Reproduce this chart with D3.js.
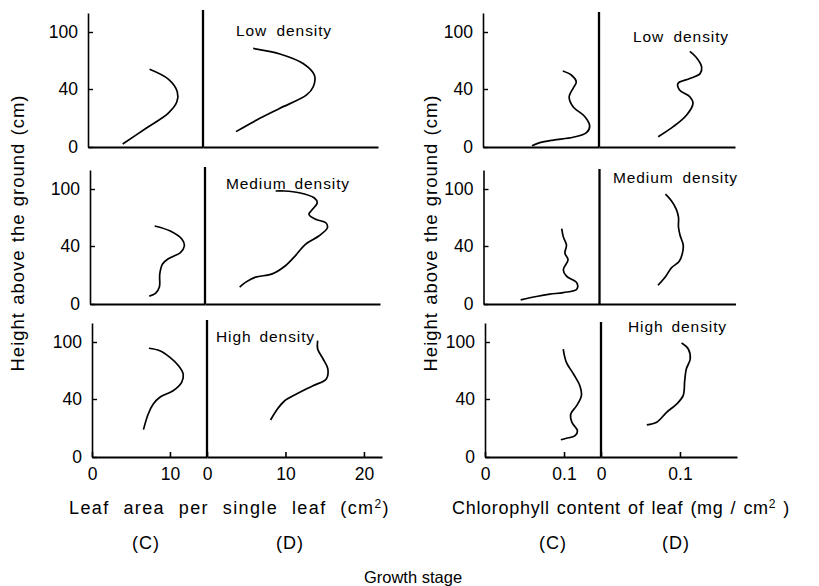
<!DOCTYPE html>
<html><head><meta charset="utf-8">
<script src="https://cdn.jsdelivr.net/npm/d3@7"></script>
<style>body{margin:0;background:#fff}</style>
</head><body>
<svg id="c" width="819" height="586"></svg>
<script>
// ---------- data ----------
const heightTicks = [0, 40, 100];
const leafTicksC = [0, 10];
const leafTicksD = [0, 10, 20];
const chlTicksC = [0, 0.1];
const chlTicksD = [0, 0.1];
const densities = ["Low density", "Medium density", "High density"];
const stages = ["(C)", "(D)"];

// Leaf area per single leaf (cm2) vs height (cm)
const leafC_low_v = [7.9, 10.3, 11.45, 11.4, 10.3, 7.5, 4.45];
const leafC_low_h = [60.7, 50.3, 38.1, 31.2, 23.4, 13.1, 2.1];
const leafD_low_v = [6.4, 9.8, 12.8, 14.2, 14.05, 13.2, 9.8, 6.85, 4.2];
const leafD_low_h = [82.7, 76.9, 66.6, 54.5, 42.4, 35.9, 26.7, 18.6, 10.6];
const leafC_med_v = [8.3, 10.3, 11.8, 12.1, 11.6, 10.1, 9.3, 8.95, 8.9, 8.4, 7.6];
const leafC_med_h = [61.1, 55.8, 47.1, 40, 35.5, 31.4, 27.6, 20.8, 11.7, 7.3, 5.4];
const leafD_med_v = [9.0, 10.1, 12.0, 13.9, 14.3, 13.7, 13.25, 14.1, 15.4, 15.6, 14.5, 12.8, 11.5, 10.25, 8.57, 6.45, 5.2, 4.42];
const leafD_med_h = [97.9, 97.9, 96.1, 90.8, 85.6, 78.6, 73.4, 68.1, 64.5, 59.3, 50.5, 41.8, 33.2, 26.4, 20.8, 18.5, 15.1, 11.7];
const leafC_high_v = [7.3, 8.7, 10.0, 11.1, 11.7, 11.5, 10.4, 8.7, 7.86, 7.2, 6.6];
const leafC_high_h = [93.4, 90.8, 83.9, 75.1, 66.3, 57.6, 48.7, 41.8, 36.5, 29.5, 18.9];
const leafD_high_v = [14.1, 14.1, 14.8, 15.4, 15.2, 13.5, 11.4, 9.9, 8.8, 8.1];
const leafD_high_h = [101.4, 92.6, 82.1, 71.6, 61.1, 54.0, 45.3, 38.8, 31.8, 25.5];

// Chlorophyll content of leaf (mg/cm2) vs height (cm)
const chlC_low_v = [0.101, 0.112, 0.118, 0.114, 0.109, 0.114, 0.129, 0.135, 0.131, 0.114, 0.089, 0.072, 0.062];
const chlC_low_h = [58.9, 54.5, 47.5, 40.7, 34.7, 27.8, 20.9, 14.5, 9.9, 6.7, 4.8, 3.0, 0.9];
const chlD_low_v = [0.115, 0.123, 0.130, 0.128, 0.115, 0.100, 0.102, 0.115, 0.119, 0.111, 0.094, 0.075];
const chlD_low_h = [79.6, 73.4, 63.0, 56.2, 51.0, 45.9, 39.3, 34.7, 30.1, 22.1, 14.0, 7.1];
const chlC_med_v = [0.099, 0.101, 0.105, 0.103, 0.107, 0.101, 0.105, 0.118, 0.118, 0.101, 0.084, 0.067, 0.047];
const chlC_med_h = [58.3, 49.6, 41.0, 35.1, 30.5, 23.7, 19.2, 14.7, 10.2, 7.9, 6.8, 5.2, 2.9];
const chlD_med_v = [0.0835, 0.091, 0.097, 0.100, 0.100, 0.102, 0.106, 0.105, 0.101, 0.091, 0.084, 0.074];
const chlD_med_h = [94.5, 87.6, 79.0, 70.3, 60.0, 51.4, 41.0, 35.1, 29.4, 24.9, 19.2, 12.9];
const chlC_high_v = [0.099, 0.103, 0.112, 0.120, 0.122, 0.116, 0.1085, 0.110, 0.117, 0.114, 0.103, 0.096];
const chlC_high_h = [92.6, 78.6, 66.3, 54.0, 43.5, 35.4, 29.7, 23.9, 18.1, 14.7, 12.9, 11.9];
const chlD_high_v = [0.102, 0.1105, 0.113, 0.108, 0.106, 0.104, 0.096, 0.083, 0.0705, 0.058];
const chlD_high_h = [98.9, 92.6, 82.1, 71.6, 59.3, 43.5, 36.6, 30.8, 23.9, 22.1];

// ---------- layout ----------
const FONT = "'Liberation Sans', Arial, Helvetica, sans-serif";
const svg = d3.select("#c");
svg.append("rect").attr("width", 819).attr("height", 586).attr("fill", "#fff");

const rowBase = [147, 304, 457];
const yScaleFor = b => d3.scaleLinear().domain([0, 40, 100, 120]).range([b, b - 58, b - 115, b - 134]);

const groups = [
  {
    xC: d3.scaleLinear().domain([0, 14.75]).range([92, 207]),
    xD: d3.scaleLinear().domain([0, 22.3]).range([207, 382]),
    ticksC: leafTicksC, ticksD: leafTicksD, shift: [-4, -2, 0], divTop: 137,
    series: [
      [leafC_low_v, leafC_low_h, leafD_low_v, leafD_low_h],
      [leafC_med_v, leafC_med_h, leafD_med_v, leafD_med_h],
      [leafC_high_v, leafC_high_h, leafD_high_v, leafD_high_h]
    ],
    labelPos: [[236, 36], [226, 189], [216, 342]], labelW: [96, 124, 99],
    title: "Leaf area per single leaf (cm", titleSup: "2", titleEnd: ")", titleX: 69, titleW: 321,
    stageX: [146, 290]
  },
  {
    xC: d3.scaleLinear().domain([0, 0.1468]).range([485, 601]),
    xD: d3.scaleLinear().domain([0, 0.1722]).range([601, 737]),
    ticksC: chlTicksC, ticksD: chlTicksD, shift: [-2, -1.5, 0], divTop: 135,
    series: [
      [chlC_low_v, chlC_low_h, chlD_low_v, chlD_low_h],
      [chlC_med_v, chlC_med_h, chlD_med_v, chlD_med_h],
      [chlC_high_v, chlC_high_h, chlD_high_v, chlD_high_h]
    ],
    labelPos: [[633, 42], [613, 183], [628, 332]], labelW: [96, 125, 99],
    title: "Chlorophyll content of leaf (mg / cm", titleSup: "2", titleEnd: " )", titleX: 452, titleW: 338,
    stageX: [553, 676]
  }
];
const yTitleX = [24, 437];

function fitWidth(sel, target, ls) {
  sel.style("letter-spacing", ls + "px");
  const w = sel.node().getComputedTextLength();
  const n = (sel.text().match(/ /g) || []).length;
  if (n) sel.style("word-spacing", Math.max(0, (target - w) / n) + "px");
}

const fmt = d3.format("~g");

groups.forEach((G, gi) => {
  rowBase.forEach((b, r) => {
    const y = yScaleFor(b);
    const g = svg.append("g").attr("transform", `translate(${G.shift[r]},0)`);
    const last = r === rowBase.length - 1;

    // y axis
    const ya = g.append("g").attr("transform", `translate(${G.xC(0)},0)`)
      .call(d3.axisLeft(y).tickValues(heightTicks).tickFormat(fmt).tickSizeInner(-5).tickSizeOuter(0).tickPadding(10));
    ya.select(".domain").attr("stroke-width", 1.6);
    ya.selectAll(".tick line").attr("stroke-width", 1.4);
    ya.selectAll("text").attr("font-family", FONT).attr("font-size", 17.5).attr("fill", "#000");

    // x axes
    [[G.xC, G.ticksC], [G.xD, G.ticksD]].forEach(([xs, tv]) => {
      const xa = g.append("g").attr("transform", `translate(0,${b})`)
        .call(d3.axisBottom(xs).tickValues(last ? tv : []).tickFormat(fmt).tickSizeInner(-5).tickSizeOuter(0).tickPadding(11));
      xa.select(".domain").attr("stroke-width", 2);
      xa.selectAll(".tick line").attr("stroke-width", 1.6);
      xa.selectAll("text").attr("font-family", FONT).attr("font-size", 17.5).attr("fill", "#000");
    });

    // divider
    g.append("line")
      .attr("x1", G.xD(0)).attr("x2", G.xD(0))
      .attr("y1", y(0)).attr("y2", y(0) - G.divTop)
      .attr("stroke", "#000").attr("stroke-width", 2.3);

    // curves
    const [cv, ch, dv, dh] = G.series[r];
    const lineC = d3.line().x(d => G.xC(d[0])).y(d => y(d[1])).curve(d3.curveCatmullRom.alpha(0.5));
    const lineD = d3.line().x(d => G.xD(d[0])).y(d => y(d[1])).curve(d3.curveCatmullRom.alpha(0.5));
    g.append("path").attr("d", lineC(d3.zip(cv, ch))).attr("fill", "none").attr("stroke", "#000").attr("stroke-width", 1.7);
    g.append("path").attr("d", lineD(d3.zip(dv, dh))).attr("fill", "none").attr("stroke", "#000").attr("stroke-width", 1.7);

    // density label
    const t = svg.append("text").attr("x", G.labelPos[r][0]).attr("y", G.labelPos[r][1])
      .attr("font-family", FONT).attr("font-size", 15.5).attr("fill", "#000").text(densities[r]);
    fitWidth(t, G.labelW[r], 0.9);
  });

  // y title
  const yt = svg.append("text")
    .attr("transform", `translate(${yTitleX[gi]},233) rotate(-90)`)
    .attr("text-anchor", "middle").attr("font-family", FONT).attr("font-size", 18.5).attr("fill", "#000")
    .text("Height above the ground (cm)");
  fitWidth(yt, 277, 1.0);

  // x title
  const xt = svg.append("text").attr("x", G.titleX).attr("y", 514)
    .attr("font-family", FONT).attr("font-size", 18).attr("fill", "#000");
  xt.append("tspan").text(G.title);
  xt.append("tspan").attr("font-size", 12).attr("dy", -6).text(G.titleSup);
  xt.append("tspan").attr("dy", 6).text(G.titleEnd);
  fitWidth(xt, G.titleW, gi === 0 ? 1.4 : 0.7);

  stages.forEach((s, i) => {
    svg.append("text").attr("x", G.stageX[i]).attr("y", 549).attr("text-anchor", "middle")
      .attr("font-family", FONT).attr("font-size", 18).style("letter-spacing", "1px").attr("fill", "#000").text(s);
  });
});

svg.append("text").attr("x", 413).attr("y", 583).attr("text-anchor", "middle")
  .attr("font-family", FONT).attr("font-size", 16.5).attr("fill", "#000").text("Growth stage");
</script>
</body></html>
